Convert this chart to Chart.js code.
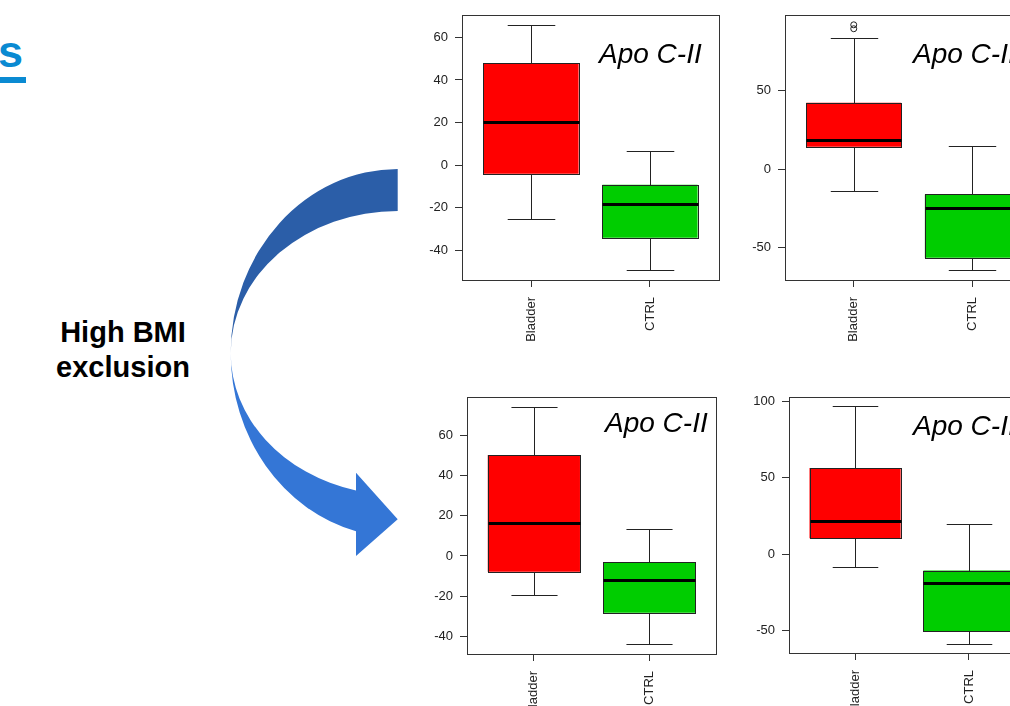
<!DOCTYPE html>
<html>
<head>
<meta charset="utf-8">
<script src="https://cdn.jsdelivr.net/npm/chart.js@4.4.1/dist/chart.umd.min.js"></script>
<style>
html, body { margin: 0; padding: 0; width: 1010px; height: 706px; overflow: hidden; background: #fff; }
body { position: relative; font-family: 'Liberation Sans', Arial, sans-serif; }
canvas { position: absolute; }
#sLetter { position: absolute; left: -2px; top: 29px; font-size: 45px; line-height: 45px; font-weight: bold; color: #0a8ad2; }
#sLine { position: absolute; left: 0; top: 77px; width: 26px; height: 6px; background: #0a8ad2; }
#bmi { position: absolute; left: 23px; top: 315px; width: 200px; text-align: center; font-size: 29px; line-height: 35px; font-weight: bold; color: #000; }
</style>
</head>
<body>
<div id="sLetter">s</div><div id="sLine"></div>
<svg width="1010" height="706" style="position:absolute;left:0;top:0">
  <path d="M397.7 169 A167 184 0 0 0 230.7 353 A167 142 0 0 1 397.7 211 Z" fill="#2b5ea8"/>
  <path d="M230.7 353 A167 184 0 0 0 356 531.2 L356 556 L397.7 519.3 L356 472.7 L356 490.5 A167 142 0 0 1 230.7 353 Z" fill="#3476d6"/>
</svg>
<div id="bmi">High BMI<br>exclusion</div>
<canvas id="c1"></canvas>
<canvas id="c2"></canvas>
<canvas id="c3"></canvas>
<canvas id="c4"></canvas>
<script>
var categories = ['Bladder', 'CTRL'];
var panelTitle = 'Apo C-II';

// five-number summaries: [lower whisker, Q1, median, Q3, upper whisker]
var topLeftBladder = [-25.3, -4.1, 20.0, 48.0, 65.9];
var topLeftCtrl = [-49.4, -34.1, -18.3, -9.2, 6.6];
var topLeftTicks = [-40, -20, 0, 20, 40, 60];

var topRightBladder = [-13.8, 14.2, 18.4, 42.4, 83.5];
var topRightCtrl = [-64.4, -56.4, -25.0, -16.1, 14.8];
var topRightOutliers = [92, 89.5]; // Bladder
var topRightTicks = [-50, 0, 50];

var bottomLeftBladder = [-19.3, -7.8, 16.5, 50.2, 74.3];
var bottomLeftCtrl = [-44.0, -28.2, -12.1, -3.0, 13.3];
var bottomLeftTicks = [-40, -20, 0, 20, 40, 60];

var bottomRightBladder = [-8.1, 10.4, 21.7, 56.5, 96.7];
var bottomRightCtrl = [-58.5, -50.5, -18.9, -10.7, 20.0];
var bottomRightTicks = [-50, 0, 50, 100];

var boxColors = ['#ff0000', '#00cd00'];
var lineColor = '#222';
var font = "'Liberation Sans', Arial, sans-serif";

function makePanel(id, frame, groups, outliers, ticks, titleAt) {
    var canvas = document.getElementById(id);
    canvas.width = frame.width + 70;
    canvas.height = frame.height + 90;
    canvas.style.left = (frame.left - 60) + 'px';
    canvas.style.top = (frame.top - 10) + 'px';

    // R style range: data extent plus 4% each side
    var all = [].concat.apply([], groups).concat(outliers);
    var lo = Math.min.apply(null, all), hi = Math.max.apply(null, all);
    var pad = (hi - lo) * 0.04;

    var boxExtras = {
        id: 'boxExtras',
        afterDatasetsDraw: function (chart) {
            var ctx = chart.ctx, y = chart.scales.y;
            var meta = chart.getDatasetMeta(0);
            var a = chart.chartArea;
            ctx.save();
            ctx.strokeStyle = lineColor;
            ctx.lineWidth = 1;
            groups.forEach(function (g, i) {
                var bar = meta.data[i];
                var cx = Math.round(bar.x) + 0.5, half = bar.width / 2;
                var left = Math.round(bar.x - half) + 0.5, right = Math.round(bar.x + half) + 0.5;
                var yLow = Math.round(y.getPixelForValue(g[0])) + 0.5;
                var yQ1 = Math.round(y.getPixelForValue(g[1])) + 0.5;
                var yQ3 = Math.round(y.getPixelForValue(g[3])) + 0.5;
                var yHigh = Math.round(y.getPixelForValue(g[4])) + 0.5;
                ctx.beginPath();
                ctx.moveTo(cx, yHigh); ctx.lineTo(cx, yQ3);
                ctx.moveTo(cx, yQ1); ctx.lineTo(cx, yLow);
                ctx.moveTo(cx - half / 2, yHigh); ctx.lineTo(cx + half / 2, yHigh);
                ctx.moveTo(cx - half / 2, yLow); ctx.lineTo(cx + half / 2, yLow);
                ctx.stroke();
                // crisp box outline over the bar fill
                ctx.strokeRect(left, yQ3, right - left, yQ1 - yQ3);
                ctx.beginPath();
                ctx.lineWidth = 3;
                ctx.strokeStyle = '#000';
                var ym = Math.round(y.getPixelForValue(g[2])) + 0.5;
                ctx.moveTo(left, ym); ctx.lineTo(right, ym);
                ctx.stroke();
                ctx.lineWidth = 1;
                ctx.strokeStyle = lineColor;
            });
            ctx.strokeStyle = '#333';
            ctx.strokeRect(Math.round(a.left) + 0.5, Math.round(a.top) + 0.5,
                Math.round(a.right - a.left), Math.round(a.bottom - a.top));
            ctx.fillStyle = '#000';
            ctx.font = 'italic 28px ' + font;
            ctx.textAlign = 'left';
            ctx.textBaseline = 'alphabetic';
            ctx.fillText(panelTitle, a.left + titleAt[0], a.top + titleAt[1]);
            ctx.restore();
        }
    };

    return new Chart(canvas, {
        type: 'bar',
        data: {
            datasets: [
                {
                    data: groups.map(function (g, i) { return { x: i + 1, y: [g[1], g[3]] }; }),
                    backgroundColor: boxColors,
                    borderWidth: 0,
                    barPercentage: 0.8,
                    categoryPercentage: 1
                },
                {
                    type: 'scatter',
                    data: outliers.map(function (v) { return { x: 1, y: v }; }),
                    pointStyle: 'circle',
                    pointRadius: 3,
                    borderColor: lineColor,
                    borderWidth: 1,
                    backgroundColor: 'rgba(0,0,0,0)'
                }
            ]
        },
        options: {
            responsive: false,
            animation: false,
            events: [],
            layout: { padding: { top: 10, right: 10, left: 0, bottom: 0 } },
            plugins: { legend: { display: false }, tooltip: { enabled: false } },
            scales: {
                x: {
                    type: 'linear',
                    min: 0.42,
                    max: 2.58,
                    offset: false,
                    afterBuildTicks: function (s) { s.ticks = categories.map(function (c, i) { return { value: i + 1 }; }); },
                    afterFit: function (s) { s.height = 80; s.paddingLeft = 0; s.paddingRight = 0; },
                    grid: { display: true, offset: false, drawOnChartArea: false, tickLength: 7, color: '#333' },
                    border: { display: false },
                    ticks: {
                        minRotation: 90, maxRotation: 90, padding: 10,
                        color: '#222', font: { family: font, size: 13 },
                        callback: function (v) { return categories[v - 1]; }
                    }
                },
                y: {
                    min: lo - pad,
                    max: hi + pad,
                    afterBuildTicks: function (s) { s.ticks = ticks.map(function (v) { return { value: v }; }); },
                    afterFit: function (s) { s.width = 60; s.paddingTop = 0; s.paddingBottom = 0; },
                    grid: { display: true, drawOnChartArea: false, tickLength: 7, color: '#333' },
                    border: { display: false },
                    ticks: {
                        padding: 7, color: '#222', font: { family: font, size: 13 },
                        callback: function (v) { return String(v); }
                    }
                }
            }
        },
        plugins: [boxExtras]
    });
}

makePanel('c1', { left: 462, top: 15, width: 257, height: 265 },
    [topLeftBladder, topLeftCtrl], [], topLeftTicks, [137, 48]);
makePanel('c2', { left: 785, top: 15, width: 256, height: 265 },
    [topRightBladder, topRightCtrl], topRightOutliers, topRightTicks, [128, 48]);
makePanel('c3', { left: 467, top: 397, width: 249, height: 257 },
    [bottomLeftBladder, bottomLeftCtrl], [], bottomLeftTicks, [138, 35]);
makePanel('c4', { left: 789, top: 397, width: 246, height: 256 },
    [bottomRightBladder, bottomRightCtrl], [], bottomRightTicks, [124, 38]);
</script>
</body>
</html>
